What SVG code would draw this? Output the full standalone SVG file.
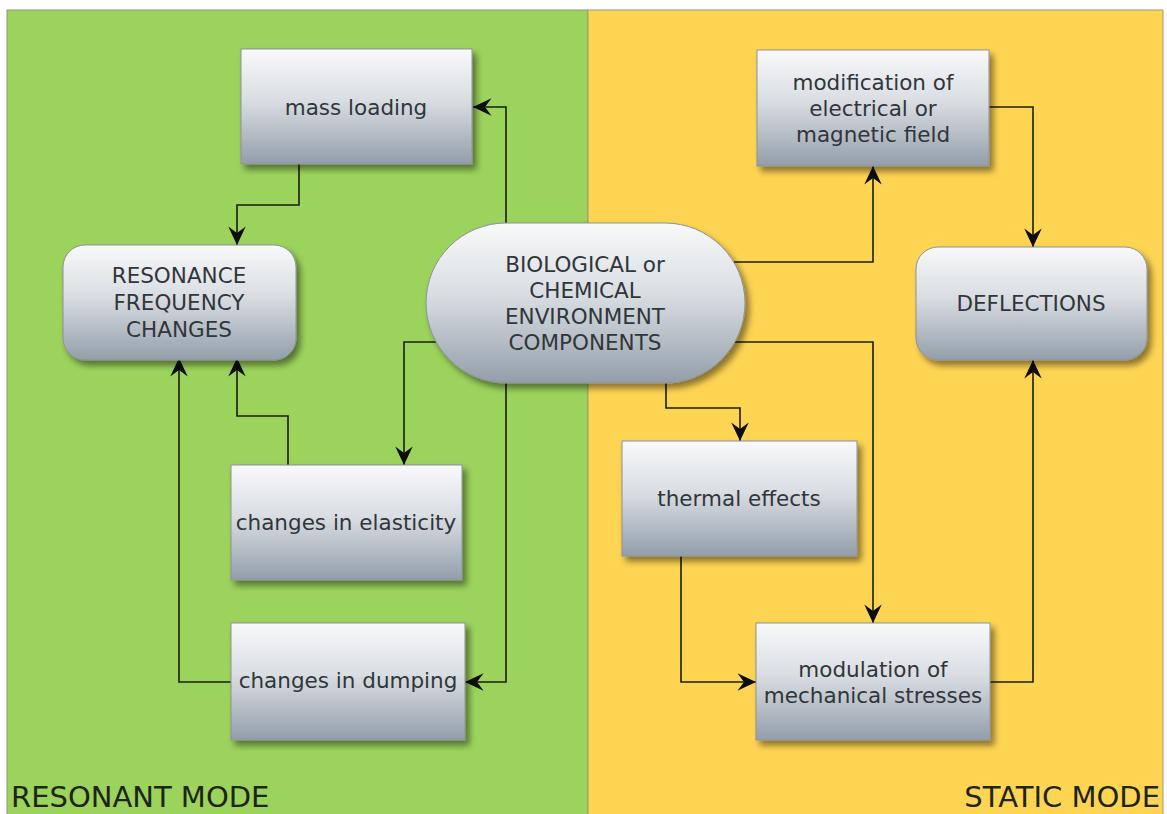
<svg xmlns="http://www.w3.org/2000/svg" width="1167" height="814" viewBox="0 0 1167 814">
<style>
.box{fill:url(#g);stroke:#8d9298;stroke-width:1;filter:url(#sh)}
.t{font-family:"DejaVu Sans",Verdana,sans-serif;font-size:21.5px;fill:#30363a;text-anchor:middle}
.mode{font-family:"DejaVu Sans",Verdana,sans-serif;font-size:29px;fill:#1e2418}
.c{fill:none;stroke:#1a1f10;stroke-width:1.6;marker-end:url(#ar)}
</style>
<defs>
<linearGradient id="g" x1="0" y1="0" x2="0" y2="1">
<stop offset="0" stop-color="#f8f9fa"/>
<stop offset="0.45" stop-color="#d9dde2"/>
<stop offset="1" stop-color="#939eaa"/>
</linearGradient>
<filter id="sh" x="-10%" y="-10%" width="130%" height="140%">
<feDropShadow dx="4" dy="5" stdDeviation="3" flood-color="#000" flood-opacity="0.45"/>
</filter>
<marker id="ar" markerUnits="userSpaceOnUse" markerWidth="24" markerHeight="24" viewBox="-20 -10 22 20" refX="0" refY="0" orient="auto">
<path d="M-17,-8 L0,0 L-17,8 L-11,0 z" fill="#0d0d0d"/>
</marker>
</defs>
<rect x="0" y="0" width="1167" height="814" fill="#ffffff"/>
<rect x="7" y="10" width="581" height="810" fill="#9bd35c" stroke="#8c9a80" stroke-width="1"/>
<rect x="588" y="10" width="575" height="810" fill="#fed453" stroke="#a59a70" stroke-width="1"/>
<text class="mode" x="11" y="807">RESONANT MODE</text>
<text class="mode" x="1160" y="807" text-anchor="end">STATIC MODE</text>
<g id="connectors">
<path class="c" d="M506,230 V107 H473"/>
<path class="c" d="M299,164 V205 H237 V245"/>
<path class="c" d="M440,342 H404 V465"/>
<path class="c" d="M288,465 V416 H237 V358"/>
<path class="c" d="M231,682 H179 V358"/>
<path class="c" d="M506,378 V682 H465"/>
<path class="c" d="M730,262 H873 V166"/>
<path class="c" d="M989,107 H1033 V247"/>
<path class="c" d="M730,342 H873 V623"/>
<path class="c" d="M666,378 V408 H740 V441"/>
<path class="c" d="M681,556 V682 H756"/>
<path class="c" d="M990,682 H1033 V360"/>
</g>
<g id="mass-loading">
<rect class="box" x="241" y="49" width="231" height="115"/>
<text class="t" x="356" y="115">mass loading</text>
</g>
<g id="resonance">
<rect class="box" x="63" y="245" width="233" height="115" rx="22" ry="22"/>
<text class="t" x="179" y="283">RESONANCE</text>
<text class="t" x="179" y="310">FREQUENCY</text>
<text class="t" x="179" y="337">CHANGES</text>
</g>
<g id="environment">
<rect class="box" x="426" y="223" width="319" height="160" rx="80" ry="80"/>
<text class="t" x="585" y="272">BIOLOGICAL or</text>
<text class="t" x="585" y="298">CHEMICAL</text>
<text class="t" x="585" y="324">ENVIRONMENT</text>
<text class="t" x="585" y="350">COMPONENTS</text>
</g>
<g id="modification">
<rect class="box" x="757" y="50" width="232" height="116"/>
<text class="t" x="873" y="90">modification of</text>
<text class="t" x="873" y="116">electrical or</text>
<text class="t" x="873" y="142">magnetic field</text>
</g>
<g id="deflections">
<rect class="box" x="916" y="247" width="231" height="113" rx="22" ry="22"/>
<text class="t" x="1031" y="311">DEFLECTIONS</text>
</g>
<g id="elasticity">
<rect class="box" x="231" y="465" width="231" height="115"/>
<text class="t" x="346" y="530">changes in elasticity</text>
</g>
<g id="dumping">
<rect class="box" x="231" y="623" width="234" height="117"/>
<text class="t" x="348" y="688">changes in dumping</text>
</g>
<g id="thermal">
<rect class="box" x="622" y="441" width="235" height="115"/>
<text class="t" x="739" y="506">thermal effects</text>
</g>
<g id="modulation">
<rect class="box" x="756" y="623" width="234" height="117"/>
<text class="t" x="873" y="677">modulation of</text>
<text class="t" x="873" y="703">mechanical stresses</text>
</g>
</svg>
